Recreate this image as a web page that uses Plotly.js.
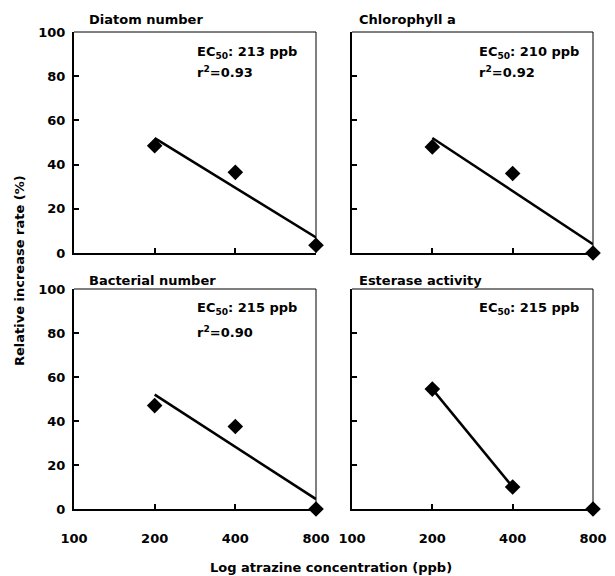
<!DOCTYPE html>
<html><head><meta charset="utf-8">
<script src="https://cdn.plot.ly/plotly-3.0.1.min.js"></script>
<style>body{margin:0;background:#fff}#chart{width:615px;height:576px}</style>
</head><body><div id="chart"></div>
<script>
// Data
const conc = [200, 400, 800];
const diatom = [48.5, 36.5, 3.5];
const chloro = [48, 36, 0];
const bact = [47, 37.5, 0];
const ester = [54.5, 10, 0];
// Regression lines (endpoints)
const diatomFitX = [200, 800], diatomFitY = [52, 7];
const chloroFitX = [200, 800], chloroFitY = [52, 4];
const bactFitX = [200, 800], bactFitY = [52, 4.5];
const esterFitX = [200, 400], esterFitY = [54.5, 10];
const panelTitles = ["Diatom number", "Chlorophyll a", "Bacterial number", "Esterase activity"];
const ecTexts = ["EC<sub>50</sub>: 213 ppb", "EC<sub>50</sub>: 210 ppb", "EC<sub>50</sub>: 215 ppb", "EC<sub>50</sub>: 215 ppb"];
const r2Texts = ["r<sup>2</sup>=0.93", "r<sup>2</sup>=0.92", "r<sup>2</sup>=0.90", ""];
const xTickVals = [100, 200, 400, 800];
const xTickText = ["100", "200", "400", "800"];
const yTickVals = [0, 20, 40, 60, 80, 100];

const W = 615, H = 576;
const px = x => x / W, py = y => 1 - y / H;
const FONT = "DejaVu Sans";

const series = [diatom, chloro, bact, ester];
const fitsX = [diatomFitX, chloroFitX, bactFitX, esterFitX];
const fitsY = [diatomFitY, chloroFitY, bactFitY, esterFitY];

const traces = [];
for (let i = 0; i < 4; i++) {
  const xa = i === 0 ? 'x' : 'x' + (i + 1);
  const ya = i === 0 ? 'y' : 'y' + (i + 1);
  traces.push({x: fitsX[i], y: fitsY[i], xaxis: xa, yaxis: ya, mode: 'lines',
    line: {color: '#000', width: 2.5}, cliponaxis: false, hoverinfo: 'skip'});
  traces.push({x: conc, y: series[i], xaxis: xa, yaxis: ya, mode: 'markers',
    marker: {symbol: 'diamond', size: 12, color: '#000'}, cliponaxis: false});
}

const xDom = [[74/W, 316/W], [352/W, 593/W]];
const yDom = [[py(253), py(32)], [py(509), py(289)]];

const layout = {
  width: W, height: H, showlegend: false,
  margin: {l: 0, r: 0, t: 0, b: 0},
  paper_bgcolor: '#fff', plot_bgcolor: '#fff',
  font: {family: FONT, color: '#000', size: 13},
  annotations: [], shapes: []
};

for (let i = 0; i < 4; i++) {
  const col = i % 2, row = Math.floor(i / 2);
  const sfx = i === 0 ? '' : String(i + 1);
  layout['xaxis' + sfx] = {
    type: 'log', range: [Math.log10(100), Math.log10(800)], domain: xDom[col],
    anchor: 'y' + sfx, tickvals: xTickVals, ticktext: xTickText,
    showticklabels: row === 1, ticks: 'inside', ticklen: 5, tickwidth: 2, tickcolor: '#000',
    ticklabelstandoff: 16,
    tickfont: {family: FONT, size: 13, weight: 'bold'},
    showline: true, linewidth: 2, linecolor: '#000', showgrid: false, zeroline: false,
    fixedrange: true
  };
  layout['yaxis' + sfx] = {
    range: [0, 100], domain: yDom[row], anchor: 'x' + sfx, tickvals: yTickVals,
    showticklabels: col === 0, ticks: 'inside', ticklen: 5, tickwidth: 2, tickcolor: '#000',
    ticklabelstandoff: 4,
    tickfont: {family: FONT, size: 13, weight: 'bold'},
    showline: true, linewidth: 2, linecolor: '#000', showgrid: false, zeroline: false,
    fixedrange: true
  };
  const xr = 'x' + sfx + ' domain', yr = 'y' + sfx + ' domain';
  layout.shapes.push({type: 'line', xref: xr, yref: yr, x0: 0, x1: 1, y0: 1, y1: 1, line: {color: '#000', width: 1}});
  layout.shapes.push({type: 'line', xref: xr, yref: yr, x0: 1, x1: 1, y0: 0, y1: 1, line: {color: '#000', width: 1}});

  const titleX = [87, 357][col], titleY = [20, 280][row];
  layout.annotations.push({text: panelTitles[i], xref: 'paper', yref: 'paper', x: px(titleX), y: py(titleY),
    xanchor: 'left', yanchor: 'middle', showarrow: false, font: {family: FONT, size: 13, weight: 'bold'}});
  const ecX = [195, 477][col], ecY = [53, 308][row], r2Y = [72, 332][row];
  layout.annotations.push({text: ecTexts[i], xref: 'paper', yref: 'paper', x: px(ecX), y: py(ecY),
    xanchor: 'left', yanchor: 'middle', showarrow: false, font: {family: FONT, size: 13, weight: 'bold'}});
  if (r2Texts[i]) layout.annotations.push({text: r2Texts[i], xref: 'paper', yref: 'paper', x: px(ecX), y: py(r2Y),
    xanchor: 'left', yanchor: 'middle', showarrow: false, font: {family: FONT, size: 13, weight: 'bold'}});
}

layout.annotations.push({text: 'Relative increase rate (%)', xref: 'paper', yref: 'paper', x: px(19), y: py(271),
  xanchor: 'center', yanchor: 'middle', textangle: -90, showarrow: false, font: {family: FONT, size: 13, weight: 'bold'}});
layout.annotations.push({text: 'Log atrazine concentration (ppb)', xref: 'paper', yref: 'paper', x: px(331), y: py(567),
  xanchor: 'center', yanchor: 'middle', showarrow: false, font: {family: FONT, size: 13, weight: 'bold'}});

Plotly.newPlot('chart', traces, layout, {staticPlot: true, displayModeBar: false});
</script>
</body></html>
